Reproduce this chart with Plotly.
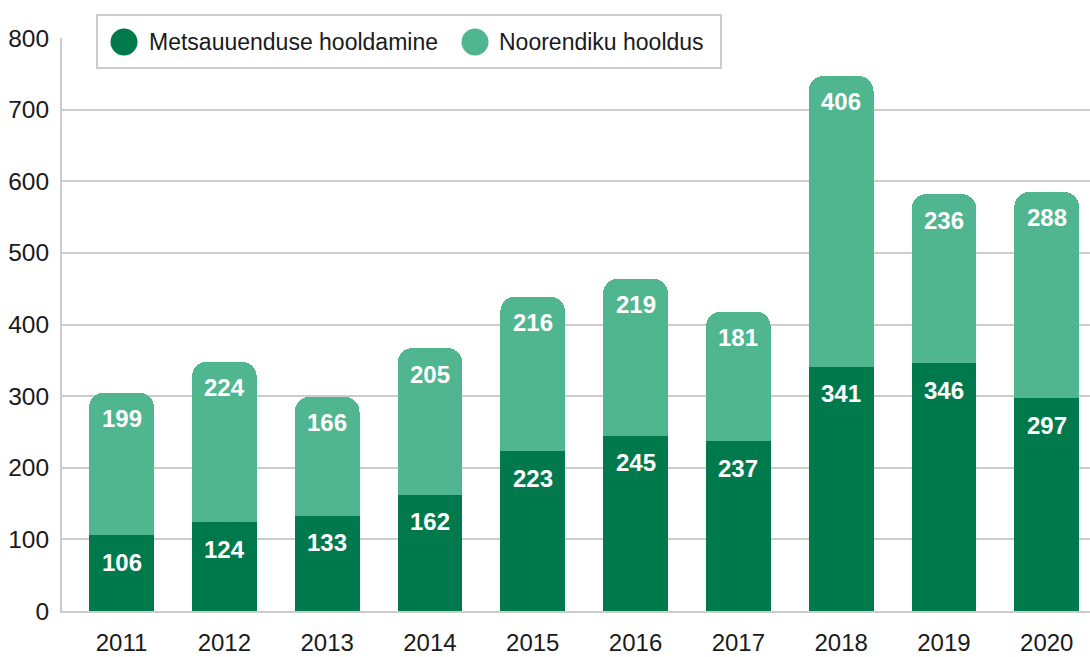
import plotly.graph_objects as go

years = ["2011", "2012", "2013", "2014", "2015", "2016", "2017", "2018", "2019", "2020"]
metsauuendus = [106, 124, 133, 162, 223, 245, 237, 341, 346, 297]
noorendik = [199, 224, 166, 205, 216, 219, 181, 406, 236, 288]
series_names = ["Metsauuenduse hooldamine", "Noorendiku hooldus"]
y_ticks = [0, 100, 200, 300, 400, 500, 600, 700, 800]

DARK = "#007A4D"
LIGHT = "#4FB68F"
FONT = "Liberation Sans"

fig = go.Figure()
fig.add_trace(go.Bar(x=years, y=metsauuendus, name=series_names[0],
                     marker=dict(color=DARK, line=dict(width=0)), width=0.63,
                     showlegend=False, hoverinfo="x+y"))
fig.add_trace(go.Bar(x=years, y=noorendik, name=series_names[1],
                     marker=dict(color=LIGHT, line=dict(width=0)), width=0.63,
                     showlegend=False, hoverinfo="x+y"))

annotations = []
for i, yr in enumerate(years):
    d = metsauuendus[i]
    l = noorendik[i]
    annotations.append(dict(x=i, y=d, xref="x", yref="y", text="<b>%d</b>" % d, showarrow=False,
                            yanchor="middle", yshift=-27,
                            font=dict(family=FONT, size=24, color="white")))
    annotations.append(dict(x=i, y=d + l, xref="x", yref="y", text="<b>%d</b>" % l, showarrow=False,
                            yanchor="middle", yshift=-26,
                            font=dict(family=FONT, size=24, color="white")))

# manual legend (round markers)
W, H = 1090, 657
ml, mt, mb = 62, 38, 46
pw, ph = W - ml, H - mt - mb

def px(xp):
    return (xp - ml) / pw

def py(yp):
    return (H - mb - yp) / ph

shapes = [
    dict(type="rect", xref="paper", yref="paper", x0=px(97), x1=px(721), y0=py(68), y1=py(15),
         fillcolor="white", line=dict(color="#CCCCCC", width=2), layer="above"),
    dict(type="circle", xref="paper", yref="paper", x0=px(110.5), x1=px(137.5), y0=py(55.5), y1=py(28.5),
         fillcolor=DARK, line=dict(width=0), layer="above"),
    dict(type="circle", xref="paper", yref="paper", x0=px(461.5), x1=px(488.5), y0=py(55.5), y1=py(28.5),
         fillcolor=LIGHT, line=dict(width=0), layer="above"),
]
annotations.append(dict(xref="paper", yref="paper", x=px(147), y=py(42), text=series_names[0],
                        showarrow=False, xanchor="left", yanchor="middle",
                        font=dict(family=FONT, size=23, color="#1a1a1a")))
annotations.append(dict(xref="paper", yref="paper", x=px(497), y=py(42), text=series_names[1],
                        showarrow=False, xanchor="left", yanchor="middle",
                        font=dict(family=FONT, size=23, color="#1a1a1a")))

fig.update_layout(
    width=W, height=H,
    margin=dict(l=ml, r=0, t=mt, b=mb, pad=0, autoexpand=False),
    barmode="stack",
    barcornerradius=15,
    plot_bgcolor="white", paper_bgcolor="white",
    showlegend=False,
    annotations=annotations,
    shapes=shapes,
    font=dict(family=FONT, size=24, color="#1a1a1a"),
)
fig.update_xaxes(type="category", range=[-0.579, 9.421], showgrid=False, showline=True,
                 linecolor="#CCCCCC", linewidth=2, ticks="", ticklabelstandoff=9,
                 automargin=False,
                 tickfont=dict(family=FONT, size=24, color="#1a1a1a"))
fig.update_yaxes(range=[0, 800], tickvals=y_ticks, showgrid=True, gridcolor="#CCCCCC",
                 gridwidth=2, showline=True, linecolor="#CCCCCC", linewidth=2, zeroline=False,
                 ticks="", ticklabelstandoff=6, automargin=False,
                 tickfont=dict(family=FONT, size=24.5, color="#1a1a1a"))

fig.write_html("out.html", config={"displayModeBar": False},
               post_script="document.body.style.margin='0';document.body.style.overflow='hidden';")
